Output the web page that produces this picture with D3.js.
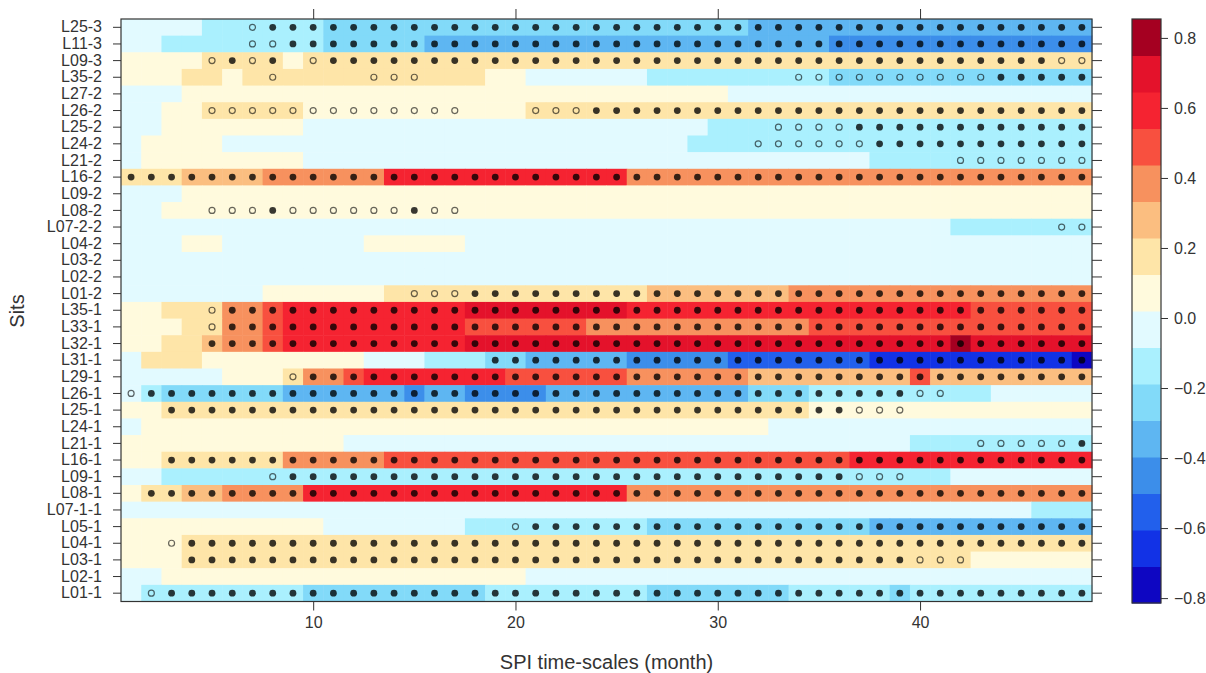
<!DOCTYPE html>
<html>
<head>
<meta charset="utf-8">
<script src="https://cdn.jsdelivr.net/npm/d3@7"></script>
<style>
  body { margin: 0; background: #fff; }
  text { font-family: "Liberation Sans", Arial, sans-serif; fill: #333; }
</style>
</head>
<body>
<div id="chart"></div>
<script>
// sites, top to bottom
var sites = ["L25-3","L11-3","L09-3","L35-2","L27-2","L26-2","L25-2","L24-2","L21-2","L16-2",
             "L09-2","L08-2","L07-2-2","L04-2","L03-2","L02-2","L01-2","L35-1","L33-1","L32-1",
             "L31-1","L29-1","L26-1","L25-1","L24-1","L21-1","L16-1","L09-1","L08-1","L07-1-1",
             "L05-1","L04-1","L03-1","L02-1","L01-1"];

// SPI time-scales 1..48
var scales = d3.range(1, 49);

// correlation level per cell, run-length: "<level>x<count>", level 0..f = colour class
var levels = [
  "7x4 6x6 5x21 4x17",
  "7x2 6x8 5x5 4x20 3x13",
  "8x4 9x4 8x1 9x39",
  "8x3 9x2 8x1 9x12 8x2 7x6 6x9 5x13",
  "7x3 8x27 7x18",
  "7x2 8x2 9x5 8x11 9x28",
  "7x2 8x7 7x20 6x19",
  "7x1 8x4 7x23 6x20",
  "7x1 8x8 7x28 6x11",
  "9x3 ax4 bx6 dx12 bx23",
  "7x3 8x45",
  "7x2 8x46",
  "7x41 6x7",
  "7x3 8x2 7x7 8x5 7x31",
  "7x48",
  "7x48",
  "7x7 8x6 9x13 ax7 bx15",
  "8x2 9x3 bx2 cx1 dx9 ex8 dx17 cx6",
  "8x3 9x2 bx2 cx1 dx9 cx6 bx11 cx14",
  "8x2 9x2 ax1 bx2 cx1 dx9 ex24 fx1 ex6",
  "7x1 9x3 8x8 7x3 6x3 5x2 4x5 3x5 2x7 1x10 0x1",
  "7x5 8x3 9x1 bx2 cx1 dx7 cx6 bx6 ax8 cx1 ax8",
  "7x1 6x1 5x6 4x6 3x1 4x2 3x4 4x10 5x3 6x9 7x5",
  "8x2 9x32 8x14",
  "7x1 8x31 7x16",
  "8x11 7x28 6x9",
  "8x2 9x6 bx5 cx23 dx12",
  "7x2 6x39 7x7",
  "8x1 9x2 ax2 bx4 dx16 bx23",
  "7x45 6x3",
  "8x10 7x7 6x9 5x11 4x11",
  "8x3 9x45",
  "8x3 9x39 8x6",
  "7x2 8x18 7x28",
  "7x1 6x8 5x9 6x8 5x7 6x5 5x1 6x9"
];

// significance markers: "*" filled, "o" open, "." none
var marks = [
  ".x6 ox1 *x41",
  ".x6 ox2 *x40",
  ".x4 ox1 *x1 ox1 *x1 .x1 ox1 *x36 ox2",
  ".x7 ox1 .x4 ox3 .x18 ox10 *x5",
  ".x48",
  ".x4 ox13 .x3 ox3 *x25",
  ".x32 ox4 *x12",
  ".x31 ox6 *x11",
  ".x41 ox7",
  "*x48",
  ".x48",
  ".x4 ox3 *x1 ox6 *x1 ox2 .x31",
  ".x46 ox2",
  ".x48",
  ".x48",
  ".x48",
  ".x14 ox3 *x31",
  ".x4 ox1 *x43",
  ".x4 ox1 *x43",
  ".x4 *x44",
  ".x18 *x30",
  ".x8 ox1 *x39",
  "ox1 *x38 ox2 .x7",
  ".x2 *x34 ox3 .x9",
  ".x48",
  ".x42 ox5 *x1",
  ".x2 *x46",
  ".x7 ox1 *x28 ox3 .x9",
  ".x1 *x47",
  ".x48",
  ".x19 ox1 *x28",
  ".x2 ox1 *x45",
  ".x3 *x36 ox3 .x6",
  ".x48",
  ".x1 ox1 *x46"
];

var colorRange = [-0.814, 0.854];
var colors = ["#0e06c2","#1232e6","#2260ec","#3c8eea","#5eb6f2","#82daf9","#aaf0fe","#e2faff",
              "#fffadd","#fee5a8","#fbbe80","#f7915e","#f8503f","#f52331","#e4122b","#a50021"];
var xTicks = [10, 20, 30, 40];
var cbTicks = [-0.8, -0.6, -0.4, -0.2, 0.0, 0.2, 0.4, 0.6, 0.8];

function expand(str){
    var out = [];
    str.split(" ").forEach(function(run){
        var p = run.split("x");
        for (var i = 0; i < +p[1]; i++) out.push(p[0]);
    });
    return out;
}

var width = 1206, height = 673;
var plot = { left: 121, right: 1092, top: 19, bottom: 601.5 };

var colorScale = d3.scaleQuantize().domain(colorRange).range(colors);

var cells = [];
sites.forEach(function(s, i){
    var lv = expand(levels[i]), mk = expand(marks[i]);
    scales.forEach(function(m, j){
        var ext = colorScale.invertExtent(colors[parseInt(lv[j], 16)]);
        cells.push({ site: s, scale: m, value: (ext[0] + ext[1]) / 2, mark: mk[j] });
    });
});

var xScale = d3.scaleLinear().domain([0.5, 48.5]).range([plot.left, plot.right]);
var yScale = d3.scaleBand().domain(sites).range([plot.top, plot.bottom]);

var svg = d3.select("#chart").append("svg")
    .attr("width", width).attr("height", height);

// cells
svg.append("g").selectAll("rect")
    .data(cells).enter().append("rect")
    .attr("x", function(d){ return xScale(d.scale - 0.5); })
    .attr("y", function(d){ return yScale(d.site); })
    .attr("width", xScale(1.5) - xScale(0.5) + 0.5)
    .attr("height", yScale.bandwidth() + 0.5)
    .attr("fill", function(d){ return colorScale(d.value); });

// markers
var pts = svg.append("g");
pts.selectAll("circle.filled")
    .data(cells.filter(function(d){ return d.mark === "*"; }))
    .enter().append("circle").attr("class", "filled")
    .attr("cx", function(d){ return xScale(d.scale); })
    .attr("cy", function(d){ return yScale(d.site) + yScale.bandwidth() / 2; })
    .attr("r", 3.4)
    .attr("fill", "rgba(0,0,0,0.78)");
pts.selectAll("circle.open")
    .data(cells.filter(function(d){ return d.mark === "o"; }))
    .enter().append("circle").attr("class", "open")
    .attr("cx", function(d){ return xScale(d.scale); })
    .attr("cy", function(d){ return yScale(d.site) + yScale.bandwidth() / 2; })
    .attr("r", 3)
    .attr("fill", "none")
    .attr("stroke", "rgba(0,0,0,0.6)")
    .attr("stroke-width", 1.2);

// frame
svg.append("rect")
    .attr("x", plot.left).attr("y", plot.top)
    .attr("width", plot.right - plot.left).attr("height", plot.bottom - plot.top)
    .attr("fill", "none").attr("stroke", "#333").attr("stroke-width", 1.2);

// axes
var yAxisL = d3.axisLeft(yScale).tickSizeOuter(0).tickSize(8).tickPadding(11);
var gy = svg.append("g").attr("transform", "translate(" + plot.left + ",0)").call(yAxisL);
gy.select(".domain").remove();
gy.selectAll("text").style("font-size", "16px").attr("fill", "#333");
gy.selectAll("line").attr("stroke", "#333");

var yAxisR = d3.axisRight(yScale).tickSizeOuter(0).tickSize(10).tickFormat("");
var gyr = svg.append("g").attr("transform", "translate(" + plot.right + ",0)").call(yAxisR);
gyr.select(".domain").remove();
gyr.selectAll("line").attr("stroke", "#333");

var xAxisB = d3.axisBottom(xScale).tickValues(xTicks).tickSize(9).tickPadding(6).tickSizeOuter(0);
var gx = svg.append("g").attr("transform", "translate(0," + plot.bottom + ")").call(xAxisB);
gx.select(".domain").remove();
gx.selectAll("text").style("font-size", "16px").attr("fill", "#333");
gx.selectAll("line").attr("stroke", "#333");

var xAxisT = d3.axisTop(xScale).tickValues(xTicks).tickSize(10).tickFormat("").tickSizeOuter(0);
var gxt = svg.append("g").attr("transform", "translate(0," + plot.top + ")").call(xAxisT);
gxt.select(".domain").remove();
gxt.selectAll("line").attr("stroke", "#333");

// axis titles
svg.append("text")
    .attr("x", (plot.left + plot.right) / 2).attr("y", 669)
    .attr("text-anchor", "middle").style("font-size", "20px")
    .text("SPI time-scales (month)");
svg.append("text")
    .attr("transform", "translate(24,311) rotate(-90)")
    .attr("text-anchor", "middle").style("font-size", "20px")
    .text("Sits");

// colour key
var cb = { left: 1132, right: 1161, top: 19, bottom: 603 };
var cbScale = d3.scaleLinear().domain(colorRange).range([cb.bottom, cb.top]);
svg.append("g").selectAll("rect")
    .data(colors).enter().append("rect")
    .attr("x", cb.left)
    .attr("y", function(c){ return cbScale(colorScale.invertExtent(c)[1]); })
    .attr("width", cb.right - cb.left)
    .attr("height", function(c){
        var e = colorScale.invertExtent(c);
        return cbScale(e[0]) - cbScale(e[1]) + 0.5;
    })
    .attr("fill", function(c){ return c; });
svg.append("rect")
    .attr("x", cb.left).attr("y", cb.top)
    .attr("width", cb.right - cb.left).attr("height", cb.bottom - cb.top)
    .attr("fill", "none").attr("stroke", "#333").attr("stroke-width", 1.2);

var cbAxis = d3.axisRight(cbScale).tickValues(cbTicks).tickFormat(d3.format(".1f"))
    .tickSize(7).tickPadding(6).tickSizeOuter(0);
var gcb = svg.append("g").attr("transform", "translate(" + cb.right + ",0)").call(cbAxis);
gcb.select(".domain").remove();
gcb.selectAll("text").style("font-size", "16px").attr("fill", "#333");
gcb.selectAll("line").attr("stroke", "#333");
</script>
</body>
</html>
